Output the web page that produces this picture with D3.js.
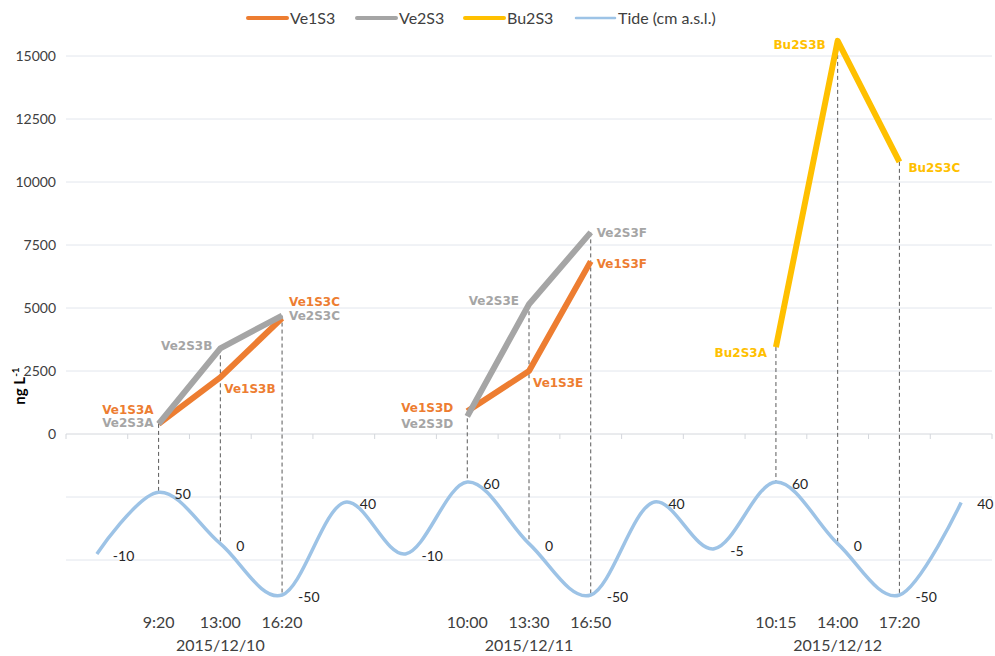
<!DOCTYPE html>
<html>
<head>
<meta charset="utf-8">
<script src="https://cdn.jsdelivr.net/npm/d3@7"></script>
<style>
  body { margin: 0; background: #fff; }
  svg { display: block; }
  .tick-lab { font-family: Lato, "Open Sans", sans-serif; font-size: 14px; fill: #404040; }
  .cat-lab { font-family: Lato, "Open Sans", sans-serif; font-size: 16px; fill: #404040; }
  .pt-lab { font-family: "DejaVu Sans", Verdana, sans-serif; font-size: 12px; font-weight: bold; }
  .leg { font-family: Lato, "Open Sans", sans-serif; font-size: 16px; fill: #404040; }
</style>
</head>
<body>
<svg id="chart" width="995" height="656"></svg>
<script>
// categories along the x axis (time of sampling, blanks between days)
var times = ["", "9:20", "13:00", "16:20", "", "", "10:00", "13:30", "16:50", "", "", "10:15", "14:00", "17:20", ""];
var dates = ["2015/12/10", "2015/12/11", "2015/12/12"];
var dateAt = [2, 7, 12];

// tide (cm a.s.l.)
var tide = [-10, 50, 0, -50, 40, -10, 60, 0, -50, 40, -5, 60, 0, -50, 40];

// concentrations ng L-1
var ve1s3 = [null, 400, 2250, 4600, null, null, 900, 2500, 6850, null, null, null, null, null, null];
var ve2s3 = [null, 400, 3400, 4700, null, null, 700, 5150, 8000, null, null, null, null, null, null];
var bu2s3 = [null, null, null, null, null, null, null, null, null, null, null, 3450, 15600, 10800, null];

var ve1Names = ["Ve1S3A", "Ve1S3B", "Ve1S3C", "Ve1S3D", "Ve1S3E", "Ve1S3F"];
var ve2Names = ["Ve2S3A", "Ve2S3B", "Ve2S3C", "Ve2S3D", "Ve2S3E", "Ve2S3F"];
var bu2Names = ["Bu2S3A", "Bu2S3B", "Bu2S3C"];

var yTicks = [-5000, -2500, 0, 2500, 5000, 7500, 10000, 12500, 15000];

var series = [
  {name: "Ve1S3", values: ve1s3, names: ve1Names, color: "#ED7D31",
   // label placement: [dx, dy] from the point
   lab: [[-5, -14], [4, 11], [7, -16], [-14, -4], [4, 12], [6, 2]]},
  {name: "Ve2S3", values: ve2s3, names: ve2Names, color: "#A5A5A5",
   lab: [[-5, -1], [-8, -3], [7, 0], [-14, 7], [-10, -3], [6, 0]]},
  {name: "Bu2S3", values: bu2s3, names: bu2Names, color: "#FFC000",
   lab: [[-9, 6], [-12, 4], [9, 6]]}
];

var svg = d3.select("svg#chart");

var x = d3.scaleBand().domain(d3.range(times.length)).range([66, 992]);
function cx(i) { return x(i) + x.bandwidth() / 2; }

var y = d3.scaleLinear().domain([-7500, 15000]).range([623, 56]);
var yt = d3.scaleLinear().domain([-50, 60]).range([595, 482]);

// gridlines
svg.append("g").selectAll("line").data(yTicks).enter()
  .append("line")
  .attr("x1", 66).attr("x2", 992)
  .attr("y1", d => y(d)).attr("y2", d => y(d))
  .attr("stroke", d => d === 0 ? "#d4d7dc" : "#e2e6ed")
  .attr("stroke-width", 1);

// y tick labels (only positive side)
svg.append("g").selectAll("text").data(yTicks.filter(d => d >= 0)).enter()
  .append("text")
  .attr("class", "tick-lab")
  .attr("x", 56).attr("y", d => y(d))
  .attr("dy", "0.35em")
  .attr("text-anchor", "end")
  .text(d => d);

// small category ticks below the zero line
svg.append("g").selectAll("line").data(d3.range(times.length + 1)).enter()
  .append("line")
  .attr("x1", d => 66 + d * x.step()).attr("x2", d => 66 + d * x.step())
  .attr("y1", y(0)).attr("y2", y(0) + 5)
  .attr("stroke", "#d4d7dc");

// y axis title
var yt0 = svg.append("text")
  .attr("transform", "translate(25,386) rotate(-90)")
  .attr("text-anchor", "middle")
  .style("font-family", "Lato, sans-serif")
  .style("font-size", "15px")
  .style("font-weight", "bold")
  .style("fill", "#000");
yt0.append("tspan").text("ng L");
yt0.append("tspan").attr("baseline-shift", "super").style("font-size", "10px").text("-1");

// dashed drop lines from the highest sample down to the tide curve
var dropIdx = d3.range(times.length).filter(i => series.some(s => s.values[i] != null));
svg.append("g").selectAll("line").data(dropIdx).enter()
  .append("line")
  .attr("x1", d => cx(d)).attr("x2", d => cx(d))
  .attr("y1", d => y(d3.max(series, s => s.values[d])))
  .attr("y2", d => yt(tide[d]))
  .attr("stroke", "#595959")
  .attr("stroke-width", 1)
  .attr("stroke-dasharray", "4,3");

// tide curve
var tideLine = d3.line()
  .x((d, i) => cx(i))
  .y(d => yt(d))
  .curve(d3.curveCardinal.tension(0));
svg.append("path")
  .datum(tide)
  .attr("d", tideLine)
  .attr("fill", "none")
  .attr("stroke", "#9DC3E6")
  .attr("stroke-width", 3.5);

svg.append("g").selectAll("text").data(tide).enter()
  .append("text")
  .attr("class", "tick-lab")
  .attr("x", (d, i) => cx(i) + 16)
  .attr("y", d => yt(d) + 2)
  .attr("dy", "0.35em")
  .style("fill", "#262626")
  .text(d => d);

// concentration lines
var line = d3.line()
  .defined(d => d != null)
  .x((d, i) => cx(i))
  .y(d => y(d));

series.forEach(function(s) {
  svg.append("path")
    .datum(s.values)
    .attr("d", line)
    .attr("fill", "none")
    .attr("stroke", s.color)
    .attr("stroke-width", 6)
    .attr("stroke-linejoin", "round");
});

// point labels
series.forEach(function(s) {
  var pts = s.values.map((v, i) => ({v: v, i: i})).filter(d => d.v != null);
  svg.append("g").selectAll("text").data(pts).enter()
    .append("text")
    .attr("class", "pt-lab")
    .attr("x", (d, k) => cx(d.i) + s.lab[k][0])
    .attr("y", (d, k) => y(d.v) + s.lab[k][1])
    .attr("dy", "0.35em")
    .attr("text-anchor", (d, k) => s.lab[k][0] < 0 ? "end" : "start")
    .attr("fill", s.color)
    .text((d, k) => s.names[k]);
});

// x labels (times and dates)
svg.append("g").selectAll("text").data(times).enter()
  .append("text")
  .attr("class", "cat-lab")
  .attr("x", (d, i) => cx(i))
  .attr("y", 622)
  .attr("dy", "0.35em")
  .attr("text-anchor", "middle")
  .text(d => d);

svg.append("g").selectAll("text").data(dates).enter()
  .append("text")
  .attr("class", "cat-lab")
  .attr("x", (d, i) => cx(dateAt[i]))
  .attr("y", 645)
  .attr("dy", "0.35em")
  .attr("text-anchor", "middle")
  .text(d => d);

// legend
var legItems = [
  {name: "Ve1S3", color: "#ED7D31", w: 4, x: 248},
  {name: "Ve2S3", color: "#A5A5A5", w: 4, x: 357},
  {name: "Bu2S3", color: "#FFC000", w: 4, x: 465},
  {name: "Tide (cm a.s.l.)", color: "#9DC3E6", w: 2.5, x: 576}
];
var leg = svg.append("g").selectAll("g").data(legItems).enter().append("g");
leg.append("line")
  .attr("x1", d => d.x).attr("x2", d => d.x + 39)
  .attr("y1", 18).attr("y2", 18)
  .attr("stroke", d => d.color)
  .attr("stroke-width", d => d.w)
  .attr("stroke-linecap", "round");
leg.append("text")
  .attr("class", "leg")
  .attr("x", d => d.x + 42)
  .attr("y", 18)
  .attr("dy", "0.35em")
  .text(d => d.name);
</script>
</body>
</html>
